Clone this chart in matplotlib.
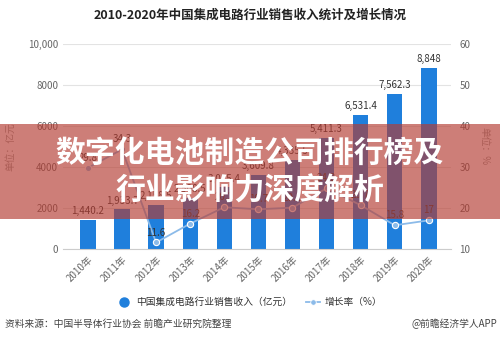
import matplotlib.pyplot as plt
from matplotlib.patches import Rectangle
from matplotlib.lines import Line2D

plt.rcParams['font.family'] = ['Noto Sans CJK SC', 'DejaVu Sans']

years = ['2010年', '2011年', '2012年', '2013年', '2014年', '2015年',
         '2016年', '2017年', '2018年', '2019年', '2020年']
revenue = [1440.2, 1933.7, 2158.5, 2508.5, 3015.4, 3609.8,
           4335.5, 5411.3, 6531.4, 7562.3, 8848]
growth = [29.8, 34.3, 11.6, 16.2, 20.2, 19.7, 20.1, 24.8, 20.7, 15.8, 17]

BAR = '#1f7fdc'
LINE = '#8cbbe9'
GRID = '#e3e3e3'
TICK = '#666666'


def fmt_rev(v):
    s = f'{v:,.1f}'
    return s[:-2] if s.endswith('.0') else s


def fmt_growth(v):
    return f'{v:g}'


def main():
    fig = plt.figure(figsize=(5, 3.44), dpi=100)
    ax = fig.add_axes([0.126, 0.276, 0.776, 0.596])
    ax2 = ax.twinx()

    x = list(range(len(years)))
    ax.bar(x, revenue, width=0.45, color=BAR, zorder=2)
    for xi, v in zip(x, revenue):
        ax.text(xi, v + 180, fmt_rev(v), ha='center', va='bottom',
                fontsize=7, color='#333333', fontweight='medium', zorder=5)

    ax2.plot(x, growth, color=LINE, lw=1.3, marker='o', ms=4.5,
             mfc=LINE, mec='white', mew=0.8, zorder=3)
    for xi, v in zip(x, growth):
        ax2.text(xi, v + 1.2, fmt_growth(v), ha='center', va='bottom',
                 fontsize=7, color='#333333', fontweight='medium', zorder=5)

    ax.set_xlim(-0.73, 10.65)
    ax.set_ylim(0, 10000)
    ax2.set_ylim(10, 60)
    ax.set_yticks([0, 2000, 4000, 6000, 8000, 10000])
    ax.set_yticklabels(['0', '2000', '4000', '6000', '8000', '10,000'])
    ax2.set_yticks([10, 20, 30, 40, 50, 60])
    ax.yaxis.grid(True, color=GRID, lw=0.8, zorder=0)
    ax.set_axisbelow(True)

    ax.set_xticks(x)
    ax.set_xticklabels(years, rotation=45, ha='right', rotation_mode='anchor')
    for a in (ax, ax2):
        for sp in a.spines.values():
            sp.set_visible(False)
        a.tick_params(length=0, labelsize=7, labelcolor=TICK)
    ax.spines['bottom'].set_visible(True)
    ax.spines['bottom'].set_color('#cccccc')
    ax.tick_params(axis='x', pad=4)
    ax2.tick_params(axis='y', pad=6)

    ax.set_ylabel('单位：亿元', fontsize=7, color='#999999', labelpad=9)
    ax2.set_ylabel('单位：%', fontsize=7, color='#999999', rotation=270,
                   labelpad=14)

    fig.text(0.5, 0.955, '2010-2020年中国集成电路行业销售收入统计及增长情况',
             ha='center', va='center', fontsize=9, fontweight='bold',
             color='#222222')

    handles = [
        Line2D([], [], ls='none', marker='o', ms=6.5, color=BAR),
        Line2D([], [], color=LINE, lw=1.3, marker='o', ms=4,
               mfc=LINE, mec='white', mew=0.6),
    ]
    fig.legend(handles, ['中国集成电路行业销售收入（亿元）', '增长率（%）'],
               loc='center', bbox_to_anchor=(0.5, 0.122), ncol=2,
               frameon=False, fontsize=7, handlelength=1.4,
               handletextpad=0.5, columnspacing=1.5, labelcolor='#333333')

    fig.text(0.01, 0.058, '资料来源：中国半导体行业协会 前瞻产业研究院整理',
             ha='left', va='center', fontsize=7, color='#444444')
    fig.text(0.995, 0.058, '@前瞻经济学人APP', ha='right', va='center',
             fontsize=7, color='#444444')

    # headline banner across the middle of the figure
    fig.patches.append(Rectangle((0, 0.363), 1, 0.277,
                                 transform=fig.transFigure,
                                 facecolor='#b43c32', alpha=0.66,
                                 edgecolor='none', zorder=10))
    fig.text(0.5, 0.557, '数字化电池制造公司排行榜及', ha='center',
             va='center', fontsize=21.5, fontweight='bold', color='white',
             zorder=11)
    fig.text(0.5, 0.447, '行业影响力深度解析', ha='center', va='center',
             fontsize=21.5, fontweight='bold', color='white', zorder=11)

    fig.savefig('out.png', dpi=100)


if __name__ == '__main__':
    main()
